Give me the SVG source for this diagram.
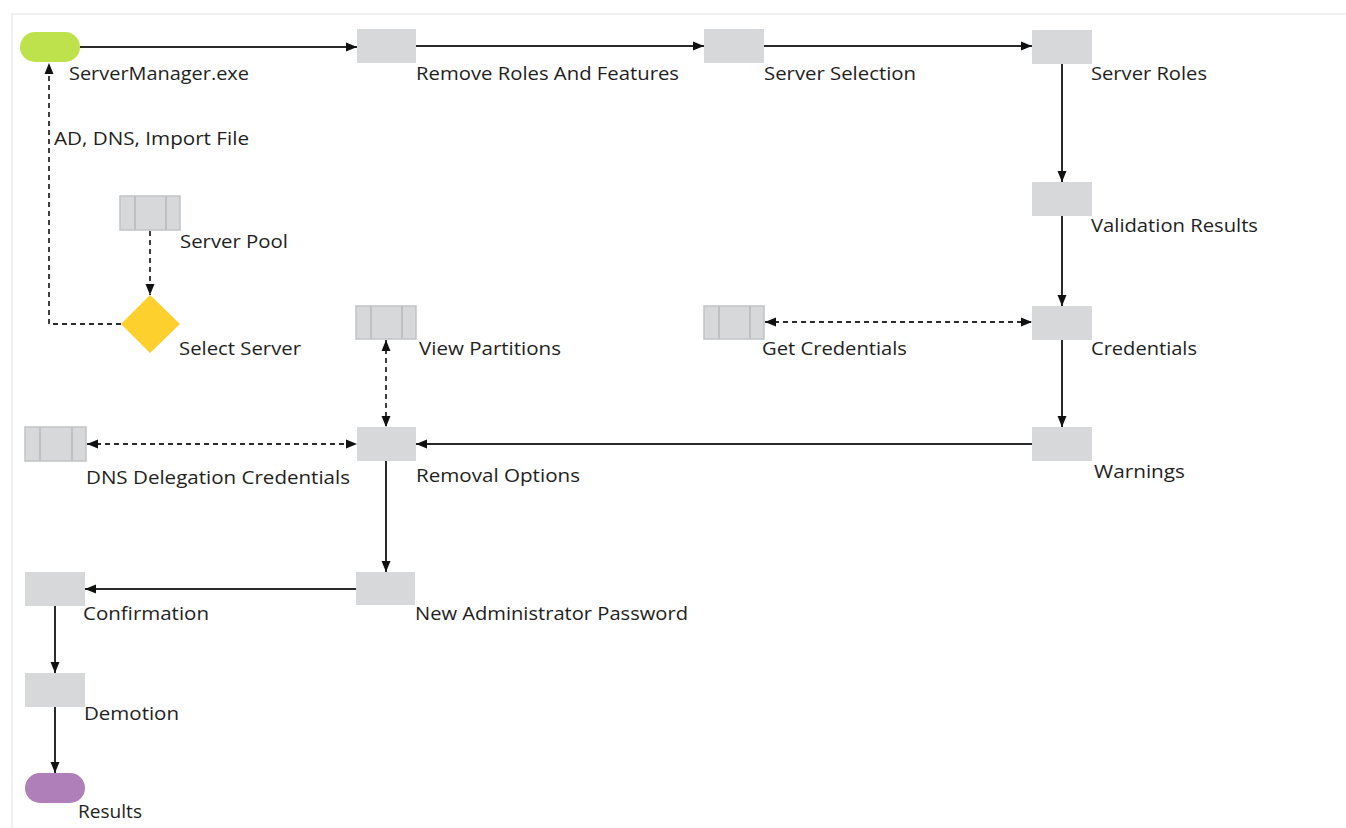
<svg xmlns="http://www.w3.org/2000/svg" width="1346" height="828" viewBox="0 0 1346 828">
  <style>
    .task { fill: #d7d8da; }
    .store { fill: #d7d8da; stroke: #c2c3c6; stroke-width: 1.5; }
    .store-line { stroke: #bfc0c3; stroke-width: 2; }
    .flow { fill: none; stroke: #2b2b2b; stroke-width: 2; }
    .data { fill: none; stroke: #2b2b2b; stroke-width: 1.8; stroke-dasharray: 5 4; }
    .lbl { font-family: "Open Sans", "Noto Sans", sans-serif; font-size: 18.5px; fill: #1e1e1e; }
  </style>
  <defs>
    <marker id="arrow" markerUnits="userSpaceOnUse" markerWidth="12" markerHeight="12" refX="11" refY="6" orient="auto">
      <path d="M0,1.5 L11,6 L0,10.5 z" fill="#111"/>
    </marker>
    <marker id="arrow-start" markerUnits="userSpaceOnUse" markerWidth="12" markerHeight="12" refX="0" refY="6" orient="auto">
      <path d="M11,1.5 L0,6 L11,10.5 z" fill="#111"/>
    </marker>
  </defs>

  <rect width="1346" height="828" fill="#ffffff"/>
  <!-- frame -->
  <path d="M12,828 L12,14 L1346,14" fill="none" stroke="#ececec" stroke-width="1.5"/>

  <g id="connectors">
    <line class="flow" x1="80" y1="47" x2="357" y2="47" marker-end="url(#arrow)"/>
    <line class="flow" x1="416" y1="46" x2="704" y2="46" marker-end="url(#arrow)"/>
    <line class="flow" x1="764" y1="46" x2="1032" y2="46" marker-end="url(#arrow)"/>
    <line class="flow" x1="1062" y1="64" x2="1062" y2="182" marker-end="url(#arrow)"/>
    <line class="flow" x1="1062" y1="216" x2="1062" y2="306" marker-end="url(#arrow)"/>
    <line class="flow" x1="1062" y1="340" x2="1062" y2="427" marker-end="url(#arrow)"/>
    <line class="flow" x1="1032" y1="444" x2="416" y2="444" marker-end="url(#arrow)"/>
    <line class="flow" x1="386" y1="461" x2="386" y2="572" marker-end="url(#arrow)"/>
    <line class="flow" x1="357" y1="589" x2="85" y2="589" marker-end="url(#arrow)"/>
    <line class="flow" x1="55" y1="606" x2="55" y2="673" marker-end="url(#arrow)"/>
    <line class="flow" x1="55" y1="707" x2="55" y2="773" marker-end="url(#arrow)"/>

    <line class="data" x1="150" y1="231" x2="150" y2="295" marker-end="url(#arrow)"/>
    <polyline class="data" points="121,324 49,324 49,63" marker-end="url(#arrow)"/>
    <line class="data" x1="765" y1="322" x2="1032" y2="322" marker-start="url(#arrow-start)" marker-end="url(#arrow)"/>
    <line class="data" x1="386" y1="340" x2="386" y2="427" marker-start="url(#arrow-start)" marker-end="url(#arrow)"/>
    <line class="data" x1="87" y1="444" x2="357" y2="444" marker-start="url(#arrow-start)" marker-end="url(#arrow)"/>
    <text class="lbl" x="54" y="145" textLength="195" lengthAdjust="spacingAndGlyphs">AD, DNS, Import File</text>
  </g>

  <g id="servermanager">
    <rect x="20" y="32" width="60" height="30" rx="15" fill="#bde24b"/>
    <text class="lbl" x="69" y="80" textLength="180" lengthAdjust="spacingAndGlyphs">ServerManager.exe</text>
  </g>
  <g id="remove-roles">
    <rect class="task" x="357" y="29" width="59" height="34"/>
    <text class="lbl" x="416" y="80" textLength="263" lengthAdjust="spacingAndGlyphs">Remove Roles And Features</text>
  </g>
  <g id="server-selection">
    <rect class="task" x="704" y="29" width="60" height="34"/>
    <text class="lbl" x="764" y="80" textLength="152" lengthAdjust="spacingAndGlyphs">Server Selection</text>
  </g>
  <g id="server-roles">
    <rect class="task" x="1032" y="30" width="60" height="34"/>
    <text class="lbl" x="1091" y="80" textLength="116" lengthAdjust="spacingAndGlyphs">Server Roles</text>
  </g>
  <g id="validation-results">
    <rect class="task" x="1032" y="182" width="60" height="34"/>
    <text class="lbl" x="1091" y="232" textLength="167" lengthAdjust="spacingAndGlyphs">Validation Results</text>
  </g>
  <g id="server-pool">
    <rect class="store" x="120" y="196" width="60" height="34"/>
    <line class="store-line" x1="135" y1="196" x2="135" y2="230"/>
    <line class="store-line" x1="166" y1="196" x2="166" y2="230"/>
    <text class="lbl" x="180" y="248" textLength="108" lengthAdjust="spacingAndGlyphs">Server Pool</text>
  </g>
  <g id="select-server">
    <polygon points="150,295 180,324 150,353 121,324" fill="#fdd02e"/>
    <text class="lbl" x="179" y="355" textLength="122" lengthAdjust="spacingAndGlyphs">Select Server</text>
  </g>
  <g id="view-partitions">
    <rect class="store" x="356" y="306" width="60" height="33"/>
    <line class="store-line" x1="371" y1="306" x2="371" y2="339"/>
    <line class="store-line" x1="402" y1="306" x2="402" y2="339"/>
    <text class="lbl" x="419" y="355" textLength="142" lengthAdjust="spacingAndGlyphs">View Partitions</text>
  </g>
  <g id="get-credentials">
    <rect class="store" x="704" y="306" width="60" height="33"/>
    <line class="store-line" x1="719" y1="306" x2="719" y2="339"/>
    <line class="store-line" x1="750" y1="306" x2="750" y2="339"/>
    <text class="lbl" x="762" y="355" textLength="145" lengthAdjust="spacingAndGlyphs">Get Credentials</text>
  </g>
  <g id="credentials">
    <rect class="task" x="1032" y="306" width="60" height="34"/>
    <text class="lbl" x="1091" y="355" textLength="106" lengthAdjust="spacingAndGlyphs">Credentials</text>
  </g>
  <g id="dns-delegation">
    <rect class="store" x="25" y="427" width="61" height="34"/>
    <line class="store-line" x1="40" y1="427" x2="40" y2="461"/>
    <line class="store-line" x1="72" y1="427" x2="72" y2="461"/>
    <text class="lbl" x="86" y="484" textLength="264" lengthAdjust="spacingAndGlyphs">DNS Delegation Credentials</text>
  </g>
  <g id="removal-options">
    <rect class="task" x="357" y="427" width="59" height="34"/>
    <text class="lbl" x="416" y="482" textLength="164" lengthAdjust="spacingAndGlyphs">Removal Options</text>
  </g>
  <g id="warnings">
    <rect class="task" x="1032" y="427" width="60" height="34"/>
    <text class="lbl" x="1094" y="478" textLength="91" lengthAdjust="spacingAndGlyphs">Warnings</text>
  </g>
  <g id="new-admin-password">
    <rect class="task" x="356" y="572" width="59" height="33"/>
    <text class="lbl" x="415" y="620" textLength="273" lengthAdjust="spacingAndGlyphs">New Administrator Password</text>
  </g>
  <g id="confirmation">
    <rect class="task" x="25" y="572" width="60" height="34"/>
    <text class="lbl" x="83" y="620" textLength="126" lengthAdjust="spacingAndGlyphs">Confirmation</text>
  </g>
  <g id="demotion">
    <rect class="task" x="25" y="673" width="60" height="34"/>
    <text class="lbl" x="84" y="720" textLength="95" lengthAdjust="spacingAndGlyphs">Demotion</text>
  </g>
  <g id="results">
    <rect x="25" y="773" width="60" height="30" rx="15" fill="#ae7fb8"/>
    <text class="lbl" x="78" y="818" textLength="64" lengthAdjust="spacingAndGlyphs">Results</text>
  </g>
</svg>
